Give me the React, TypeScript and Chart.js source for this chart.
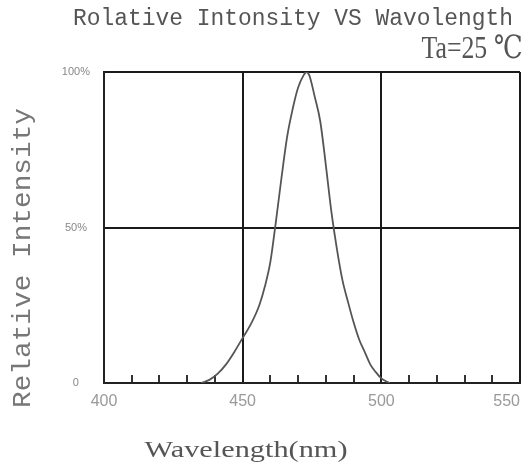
import { useEffect, useRef } from "react";
import { Chart, registerables } from "chart.js";

Chart.register(...registerables);

// ---- data ----
const wavelengths = [435, 438, 441, 444, 447, 450, 453, 456, 458, 460, 462, 464, 466, 468, 470, 472, 473, 474, 476, 478, 480, 482, 484, 486, 488, 490, 492, 494, 496, 498, 500, 502, 503];
const intensity = [0, 1, 3, 6, 10, 14.5, 19, 25, 31, 39, 52, 66, 79, 88, 95, 99, 100, 99, 92, 84, 70, 55, 43, 33, 26, 19.5, 14, 10, 6, 3.5, 1.5, 0.4, 0];
const xTickValues = [400, 450, 500, 550];
const xTickLabels = ["400", "450", "500", "550"];
const yTickValues = [0, 50, 100];
const yTickLabels = ["0", "50%", "100%"];
const majorXLines = [400, 450, 500, 550];
const majorYLines = [0, 50, 100];
const titleText = "Rolative Intonsity VS Wavolength";
const conditionText = "Ta=25 \u2103";
const yTitle = "Relative Intensity";
const xTitle = "Wavelength(nm)";

const MONO = '"Liberation Mono", "DejaVu Sans Mono", monospace';
const SERIF = '"Liberation Serif", "DejaVu Serif", serif';
const SANS = '"Liberation Sans", "DejaVu Sans", sans-serif';

function fitText(
  ctx: CanvasRenderingContext2D,
  text: string,
  cx: number,
  cy: number,
  font: string,
  width: number,
  color: string,
  rotate = 0
) {
  ctx.save();
  ctx.font = font;
  ctx.fillStyle = color;
  ctx.textAlign = "center";
  ctx.textBaseline = "middle";
  const w = ctx.measureText(text).width;
  ctx.translate(cx, cy);
  if (rotate) ctx.rotate(rotate);
  ctx.scale(width / w, 1);
  ctx.fillText(text, 0, 0);
  ctx.restore();
}

const textPlugin = {
  id: "texts",
  afterDraw(chart: any) {
    const ctx: CanvasRenderingContext2D = chart.ctx;
    const xs = chart.scales.x;
    fitText(ctx, titleText, 293, 19, `23px ${MONO}`, 440, "#555");
    fitText(ctx, conditionText, 472, 50, `32px ${SERIF}`, 101, "#555");
    fitText(ctx, yTitle, 23, 258, `26px ${MONO}`, 300, "#777", -Math.PI / 2);
    fitText(ctx, xTitle, 246, 451, `23px ${SERIF}`, 203, "#555");
    ctx.save();
    ctx.font = `16px ${SANS}`;
    ctx.fillStyle = "#999";
    ctx.textAlign = "center";
    ctx.textBaseline = "middle";
    xTickValues.forEach((v, i) => {
      const label = xTickLabels[i];
      const w = ctx.measureText(label).width;
      let px = xs.getPixelForValue(v);
      px = Math.min(px, chart.width - w / 2 - 5);
      ctx.fillText(label, px, 402);
    });
    ctx.restore();
  },
};

export default function App() {
  const ref = useRef<HTMLCanvasElement | null>(null);
  useEffect(() => {
    if (!ref.current) return;
    const chart = new Chart(ref.current, {
      type: "line",
      data: {
        datasets: [
          {
            data: wavelengths.map((x, i) => ({ x, y: intensity[i] })),
            borderColor: "#555",
            borderWidth: 1.8,
            pointRadius: 0,
            cubicInterpolationMode: "monotone",
            fill: false,
          },
        ],
      },
      options: {
        animation: false,
        responsive: false,
        layout: { padding: { top: 72, right: 5, left: 0, bottom: 0 } },
        plugins: { legend: { display: false }, tooltip: { enabled: false }, title: { display: false } },
        scales: {
          x: {
            type: "linear",
            min: 400,
            max: 550,
            afterFit: (s: any) => {
              s.height = 85;
              s.paddingLeft = 0;
              s.paddingRight = 0;
            },
            ticks: { stepSize: 10, display: false, autoSkip: false },
            border: { display: true, color: "#222", width: 2 },
            grid: {
              drawTicks: true,
              tickLength: -8,
              tickWidth: 2,
              tickColor: (c: any) =>
                majorXLines.includes(c.tick?.value) ? "rgba(0,0,0,0)" : "#333",
              color: (c: any) =>
                majorXLines.includes(c.tick?.value) ? "#1a1a1a" : "rgba(0,0,0,0)",
              lineWidth: 2,
            },
          },
          y: {
            min: 0,
            max: 100,
            afterFit: (s: any) => {
              s.width = 104;
              s.paddingTop = 0;
              s.paddingBottom = 0;
            },
            ticks: {
              stepSize: 50,
              crossAlign: "center",
              padding: 14,
              color: "#888",
              font: { size: 11, family: SANS },
              callback: (v: any) => {
                const i = yTickValues.indexOf(Number(v));
                return i >= 0 ? yTickLabels[i] : "";
              },
            },
            border: { display: true, color: "#222", width: 2 },
            grid: {
              drawTicks: false,
              lineWidth: 2,
              color: (c: any) =>
                majorYLines.includes(c.tick?.value) ? "#1a1a1a" : "rgba(0,0,0,0)",
            },
          },
        },
      },
      plugins: [textPlugin],
    } as any);
    return () => chart.destroy();
  }, []);
  return (
    <div style={{ position: "absolute", left: 0, top: 0, width: 525, height: 468, background: "#fff" }}>
      <canvas ref={ref} width={525} height={468} style={{ width: 525, height: 468 }} />
    </div>
  );
}
